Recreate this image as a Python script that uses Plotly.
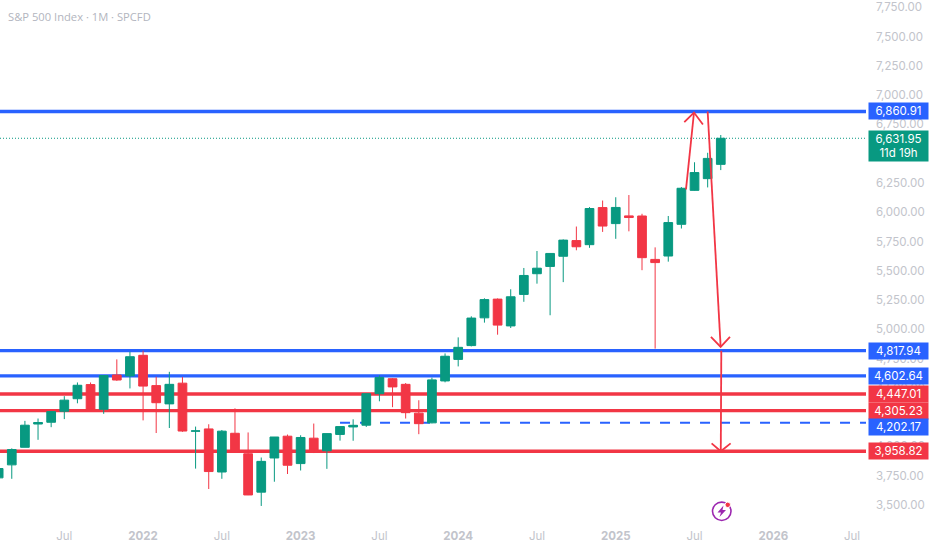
import plotly.graph_objects as go

# ---- data -------------------------------------------------------------
months = ["2021-02","2021-03","2021-04","2021-05","2021-06","2021-07","2021-08","2021-09","2021-10","2021-11","2021-12",
          "2022-01","2022-02","2022-03","2022-04","2022-05","2022-06","2022-07","2022-08","2022-09","2022-10","2022-11","2022-12",
          "2023-01","2023-02","2023-03","2023-04","2023-05","2023-06","2023-07","2023-08","2023-09","2023-10","2023-11","2023-12",
          "2024-01","2024-02","2024-03","2024-04","2024-05","2024-06","2024-07","2024-08","2024-09","2024-10","2024-11","2024-12",
          "2025-01","2025-02","2025-03","2025-04","2025-05","2025-06","2025-07","2025-08","2025-09"]
month_pos = list(range(-5, 51))

opens = [3731,3842,3992,4191,4206,4300,4407,4528,4317,4610,4602,
         4778,4519,4363,4540,4130,4149,3781,4112,3937,3609,3901,4087,
         3853,4070,3963,4102,4166,4181,4450,4578,4530,4284,4201,4559,
         4743,4861,5098,5258,5029,5298,5475,5537,5624,5758,5723,6040,
         5903,5969,5968,5597,5626,5897,6187,6287,6409]
highs = [3950,3983,4218,4238,4302,4429,4546,4546,4608,4743,4808,
         4818,4595,4637,4593,4169,4189,4140,4325,4119,3905,4080,4101,
         4095,4195,4110,4170,4231,4449,4607,4584,4541,4394,4587,4794,
         4931,5111,5265,5264,5342,5524,5669,5651,5768,5878,6044,6100,
         6128,6147,5987,5700,5968,6215,6427,6508,6660]
lows = [3725,3723,3992,4056,4164,4233,4368,4306,4278,4560,4495,
        4222,4114,4157,4124,3810,3636,3723,3954,3584,3491,3698,3764,
        3794,3943,3808,4049,4048,4166,4385,4335,4238,4104,4197,4547,
        4683,4854,5057,4954,5011,5235,5390,5120,5403,5675,5696,5832,
        5773,5837,5505,4835,5578,5861,6201,6212,6360]
closes = [3811,3973,4181,4204,4297,4395,4522,4307,4605,4567,4766,
          4515,4373,4530,4131,4132,3785,4130,3955,3585,3872,4080,3839,
          4076,3970,4109,4169,4180,4450,4589,4508,4288,4194,4568,4770,
          4846,5096,5254,5036,5278,5460,5522,5648,5762,5705,6032,5882,
          6041,5955,5612,5570,5912,6205,6339,6460,6631.95]

price_ticks = [3500,3750,4000,4500,4750,5000,5250,5500,5750,6000,6250,6750,7000,7250,7500,7750]
date_tick_pos = [0,6,12,18,24,30,36,42,48,54,60]
date_tick_text = ["Jul","<b>2022</b>","Jul","<b>2023</b>","Jul","<b>2024</b>","Jul","<b>2025</b>","Jul","<b>2026</b>","Jul"]

blue_levels = [6860.91, 4817.94, 4602.64]
red_levels = [4447.01, 4305.23, 3958.82]
dashed_level = 4202.17
dashed_start = 21
last_price = 6631.95
countdown = "11d 19h"

arrow_x = [47.35,47.96,None,47.22,47.96,48.64,None,49.0,49.99,None,49.25,49.99,50.7,None,50.04,50.0,None,49.3,50.0,50.75]
arrow_y = [6196,6852,None,6769,6852,6750,None,6860,4850,None,4935,4850,4935,None,4817,3958,None,4026,3958,4026]

BLUE, RED, GREEN = "#2962FF", "#F23645", "#089981"
GREY = "#C2C4CB"
PLOT_W, PLOT_H = 866.0, 522.0
FONT = "Inter"

fig = go.Figure()
fig.add_trace(go.Candlestick(
    x=month_pos, open=opens, high=highs, low=lows, close=closes,
    whiskerwidth=0,
    increasing=dict(line=dict(color=GREEN, width=1), fillcolor=GREEN),
    decreasing=dict(line=dict(color=RED, width=1), fillcolor=RED),
    showlegend=False, hoverinfo="skip"))
fig.add_trace(go.Scatter(x=arrow_x, y=arrow_y, mode="lines",
                         line=dict(color=RED, width=1.8), showlegend=False, hoverinfo="skip"))

shapes = []
for v in blue_levels:
    shapes.append(dict(type="line", xref="paper", yref="y", x0=0, x1=1, y0=v, y1=v,
                       layer="below", line=dict(color=BLUE, width=3.4)))
for v in red_levels:
    shapes.append(dict(type="line", xref="paper", yref="y", x0=0, x1=1, y0=v, y1=v,
                       layer="below", line=dict(color=RED, width=3.4)))
shapes.append(dict(type="line", xref="x", yref="y", x0=dashed_start, x1=61.06, y0=dashed_level, y1=dashed_level,
                   layer="below", line=dict(color=BLUE, width=2, dash="10px,10px")))
shapes.append(dict(type="line", xref="paper", yref="y", x0=0, x1=1, y0=last_price, y1=last_price,
                   layer="below", line=dict(color=GREEN, width=1, dash="1px,2px")))

# small bolt badge, placed in paper fractions
def px(x): return x / PLOT_W
def py(y): return (PLOT_H - y) / PLOT_H
shapes.append(dict(type="circle", xref="paper", yref="paper", x0=px(712.5), x1=px(731), y0=py(520.5), y1=py(502),
                   line=dict(color="#9C27B0", width=1.6), fillcolor="white"))
shapes.append(dict(type="circle", xref="paper", yref="paper", x0=px(725), x1=px(730.5), y0=py(507.5), y1=py(502),
                   line=dict(color="white", width=1), fillcolor=RED))
shapes.append(dict(type="path", xref="paper", yref="paper",
                   path=f"M {px(723.5)} {py(505.5)} L {px(717.5)} {py(512.5)} L {px(721)} {py(512.5)} "
                        f"L {px(719.5)} {py(517)} L {px(726)} {py(510)} L {px(722.5)} {py(510)} Z",
                   line=dict(width=0), fillcolor="#9C27B0"))

annotations = [dict(xref="paper", yref="paper", x=px(5.5), y=py(15), xanchor="left", yanchor="middle",
                    text="S&P 500 Index · 1M · SPCFD", showarrow=False,
                    font=dict(family="Open Sans", size=11.2, color="#B2B5BE"))]

def label(value, color, text=None, shift=0, h=16):
    annotations.append(dict(xref="paper", yref="y", x=px(868), y=value, xanchor="left", yanchor="middle",
                            yshift=shift, text=text or f"{value:,.2f}", showarrow=False,
                            width=59, height=h, bgcolor=color, borderpad=0, align="center",
                            font=dict(family=FONT, size=11.5, color="white")))

for v in blue_levels:
    label(v, BLUE)
for v in red_levels:
    label(v, RED)
label(dashed_level, BLUE, shift=-4)
label(last_price, GREEN, text=f"{last_price:,.2f}<br>{countdown}", shift=-7.5, h=30)

fig.update_layout(
    width=932, height=550,
    margin=dict(l=0, r=66, t=0, b=28),
    paper_bgcolor="white", plot_bgcolor="white",
    shapes=shapes, annotations=annotations,
    showlegend=False,
    boxgap=0.2, boxgroupgap=0.17,
    xaxis=dict(range=[-4.897, 61.06], tickmode="array", tickvals=date_tick_pos, ticktext=date_tick_text,
               showgrid=False, zeroline=False, showline=False, ticks="",
               rangeslider=dict(visible=False), ticklabelstandoff=5,
               tickfont=dict(family=FONT, size=11.5, color=GREY)),
    yaxis=dict(side="right", range=[3354, 7796], tickmode="array", tickvals=price_ticks,
               tickformat=",.2f", showgrid=False, zeroline=False, showline=False, ticks="",
               ticklabelstandoff=9, ticklabeloverflow="allow",
               tickfont=dict(family=FONT, size=11.5, color=GREY)),
)

fig.write_html("out.html", config=dict(displayModeBar=False), post_script="document.body.style.margin='0';")
